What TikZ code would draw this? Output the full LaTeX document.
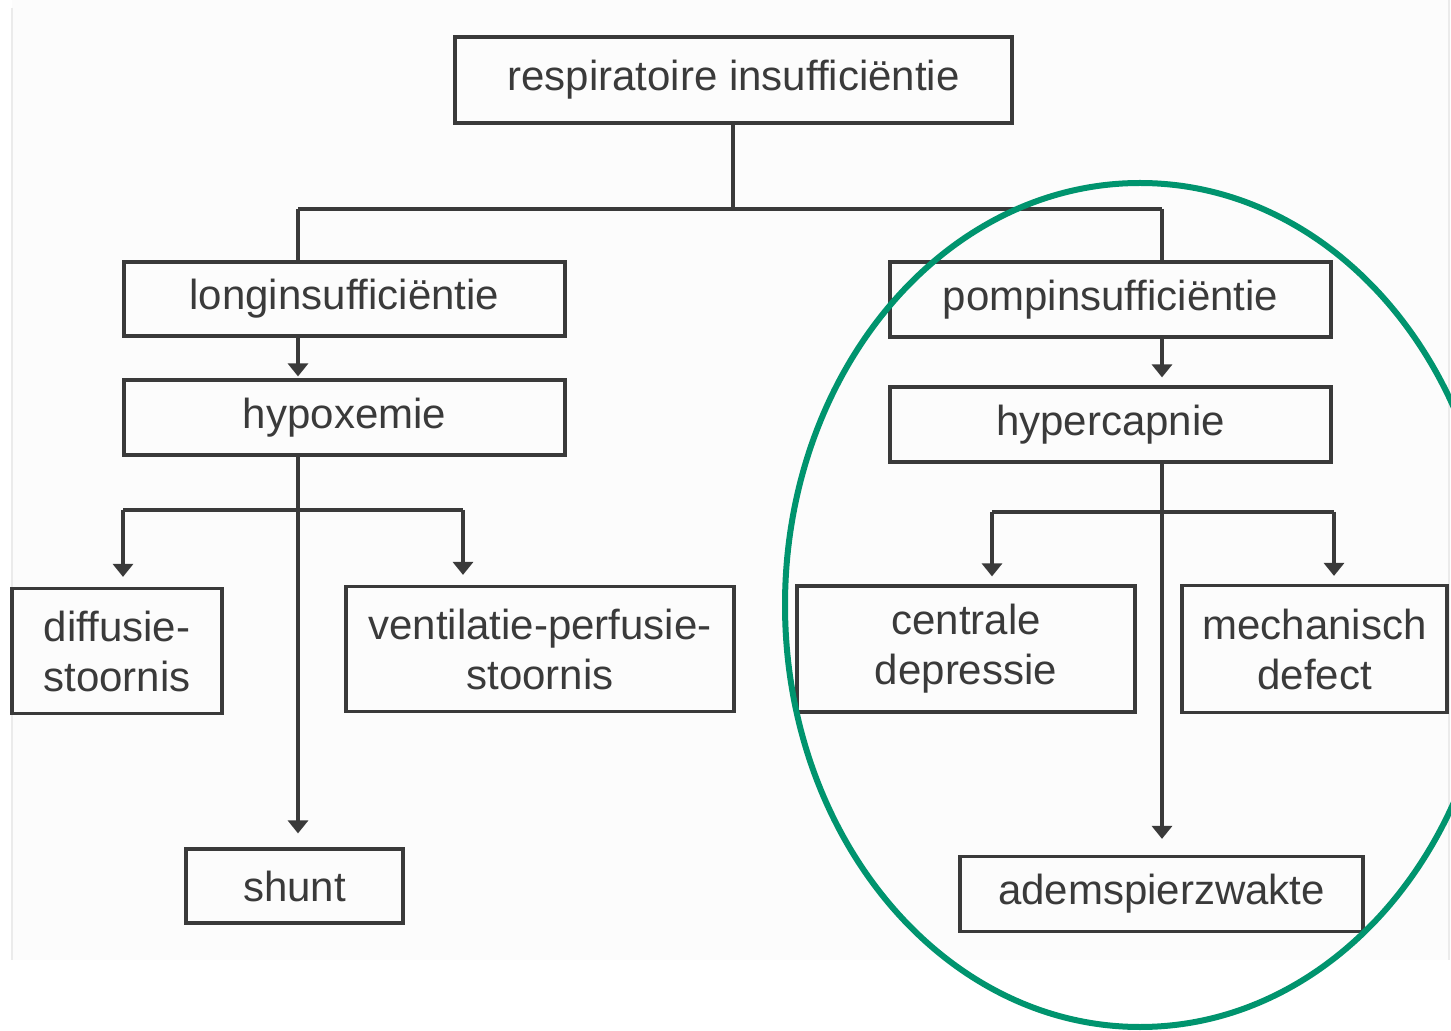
\documentclass[tikz,border=0pt]{standalone}
\usepackage{fontspec}
\setmainfont{Liberation Sans}
\usetikzlibrary{arrows.meta}
\definecolor{ringgreen}{RGB}{0,148,110}
\definecolor{inkgray}{RGB}{58,58,58}
\tikzset{
  box/.style={draw=inkgray, line width=1.6pt, text=inkgray, align=center, inner sep=0pt,
    font=\fontsize{21}{25}\selectfont},
  ln/.style={draw=inkgray, line width=1.6pt},
  arr/.style={ln, -{Triangle[length=6.5pt,width=10pt]}},
}
\begin{document}
\begin{tikzpicture}[x=0.5pt,y=-0.5pt]
\useasboundingbox (0,0) rectangle (1451,1031);
\clip (0,0) rectangle (1451,1031);
\fill[black!1] (12,0) rectangle (1449,960);
\draw[black!8, line width=0.8pt] (12,8) -- (12,960);
\draw[black!8, line width=0.8pt] (1449,0) -- (1449,960);

\node[box, minimum width=278.5pt, minimum height=43pt] (top) at (733.5,80) {respiratoire insufficiëntie};
\node[box, minimum width=220.5pt, minimum height=37pt] (long) at (344.5,299) {longinsufficiëntie};
\node[box, minimum width=220.5pt, minimum height=37.5pt] (hypox) at (344.5,417.5) {hypoxemie};
\node[box, minimum width=105pt, minimum height=62.5pt] (diff) at (117,651) {diffusie-\\stoornis};
\node[box, minimum width=194pt, minimum height=62.5pt] (vent) at (540,649) {ventilatie-perfusie-\\stoornis};
\node[box, minimum width=108.5pt, minimum height=37pt] (shunt) at (294.5,886) {shunt};
\node[box, minimum width=220.5pt, minimum height=37.5pt] (pomp) at (1110.5,299.5) {pompinsufficiëntie};
\node[box, minimum width=220.5pt, minimum height=37.5pt] (hyperc) at (1110.5,424.5) {hypercapnie};
\node[box, minimum width=169pt, minimum height=63pt] (centr) at (966,649) {centrale\\depressie};
\node[box, minimum width=132.5pt, minimum height=63.5pt] (mech) at (1314.5,649) {mechanisch\\defect};
\node[box, minimum width=201.5pt, minimum height=37.5pt] (adem) at (1161.5,894) {ademspierzwakte};

% top level connectors
\coordinate (j0) at (733,209);
\coordinate (jL) at (298,209);
\coordinate (jR) at (1162,209);
\draw[ln] (top.south -| j0) -- (j0);
\draw[ln] (jL) -- (jR);
\draw[ln] (jL) -- (jL |- long.north);
\draw[ln] (jR) -- (jR |- pomp.north);

% left branch
\draw[arr, shorten >=1pt] (jL |- long.south) -- (jL |- hypox.north);
\coordinate (hM) at (298,510);
\coordinate (hL) at (123,510);
\coordinate (hR) at (463,510);
\draw[arr, shorten >=7pt] (hM |- hypox.south) -- (hM |- shunt.north);
\draw[ln] (hL) -- (hR);
\draw[arr, shorten >=5pt] (hL) -- (hL |- diff.north);
\draw[arr, shorten >=5pt] (hR) -- (hR |- vent.north);

% right branch
\draw[arr, shorten >=4pt] (jR |- pomp.south) -- (jR |- hyperc.north);
\coordinate (rM) at (1162,512);
\coordinate (rL) at (992,512);
\coordinate (rR) at (1334,512);
\draw[arr, shorten >=8pt] (rM |- hyperc.south) -- (rM |- adem.north);
\draw[ln] (rL) -- (rR);
\draw[arr, shorten >=4pt] (rL) -- (rL |- centr.north);
\draw[arr, shorten >=4pt] (rR) -- (rR |- mech.north);

% highlight ring
\draw[ringgreen, line width=3pt] (1140,605) ellipse [x radius=177.5pt, y radius=211pt];
\end{tikzpicture}
\end{document}
